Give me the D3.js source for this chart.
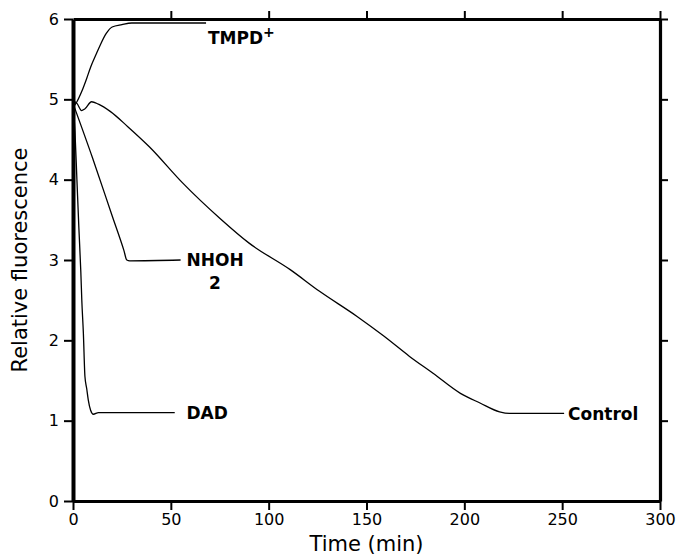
<!DOCTYPE html>
<html>
<head>
<meta charset="utf-8">
<script src="https://cdn.jsdelivr.net/npm/d3@7"></script>
<style>
  body { margin: 0; background: #fff; }
  text { font-family: "DejaVu Sans", sans-serif; fill: #000; }
</style>
</head>
<body>
<div id="chart"></div>
<script>
// Data (time in min, relative fluorescence)
var controlT = [0, 2, 4.4, 6, 9.5, 13, 19, 28, 39, 56, 75, 90, 111, 126, 145, 159, 172, 184, 198, 208, 218, 223, 251];
var controlV = [4.98, 4.95, 4.86, 4.88, 4.97, 4.94, 4.85, 4.66, 4.41, 3.96, 3.52, 3.21, 2.88, 2.61, 2.30, 2.05, 1.80, 1.59, 1.34, 1.22, 1.11, 1.09, 1.09];
var tmpdT = [0, 2, 4.5, 7, 9, 12, 14, 17, 20, 25, 30, 40, 68];
var tmpdV = [4.9, 4.97, 5.1, 5.26, 5.4, 5.57, 5.68, 5.82, 5.9, 5.93, 5.95, 5.95, 5.95];
var nhohT = [0, 10, 20, 26, 27.5, 29, 55];
var nhohV = [4.95, 4.27, 3.55, 3.12, 3.0, 2.99, 3.0];
var dadT = [0, 1, 2, 3, 4, 4.5, 5.3, 6.1, 7, 7.8, 9, 10.4, 13, 52];
var dadV = [4.95, 4.6, 4.0, 3.4, 2.85, 2.5, 2.09, 1.55, 1.4, 1.26, 1.13, 1.08, 1.1, 1.1];

var xTicks = [0, 50, 100, 150, 200, 250, 300];
var yTicks = [0, 1, 2, 3, 4, 5, 6];

function pts(t, v) {
    var out = [];
    for (var i = 0; i < t.length; i++) out.push({x: t[i], y: v[i]});
    return out;
}

var margin = {top: 19, right: 29, bottom: 56, left: 73},
    W = 689, H = 557,
    width = W - margin.left - margin.right,
    height = H - margin.top - margin.bottom;

var svg = d3.select("#chart").append("svg").attr("width", W).attr("height", H);
var g = svg.append("g").attr("transform", "translate(" + margin.left + "," + margin.top + ")");

var x = d3.scaleLinear().domain([0, 300]).range([0, width]);
var y = d3.scaleLinear().domain([0, 6]).range([height, 0]);

// Axes (frame on all four sides)
var ax = g.append("g").attr("transform", "translate(0," + height + ")")
    .call(d3.axisBottom(x).tickValues(xTicks).tickSize(9).tickSizeOuter(0).tickPadding(4).tickFormat(d3.format("d")));
var at = g.append("g")
    .call(d3.axisTop(x).tickValues(xTicks.slice(1)).tickSize(8).tickSizeOuter(0).tickFormat(""));
var ay = g.append("g")
    .call(d3.axisLeft(y).tickValues(yTicks).tickSize(9).tickSizeOuter(0).tickPadding(5).tickFormat(d3.format("d")));
var ar = g.append("g").attr("transform", "translate(" + width + ",0)")
    .call(d3.axisRight(y).tickValues(yTicks.slice(1)).tickSize(8).tickSizeOuter(0).tickFormat(""));

[ax, at, ay, ar].forEach(function(a) {
    a.select(".domain").attr("stroke", "#000").attr("stroke-width", 3.2);
    a.selectAll(".tick line").attr("stroke", "#000").attr("stroke-width", 2);
    a.selectAll(".tick text").style("font-size", "16px").attr("fill", "#000");
});
ay.select(".domain").attr("stroke-width", 4);

// Curves
var line = d3.line()
    .curve(d3.curveMonotoneX)
    .x(function(d) { return x(d.x); })
    .y(function(d) { return y(d.y); });

[[controlT, controlV], [tmpdT, tmpdV], [nhohT, nhohV], [dadT, dadV]].forEach(function(s) {
    g.append("path")
        .datum(pts(s[0], s[1]))
        .attr("fill", "none")
        .attr("stroke", "#000")
        .attr("stroke-width", 1.3)
        .attr("d", line);
});

// Curve labels
function label(t, v, txt) {
    return g.append("text")
        .attr("x", x(t)).attr("y", y(v))
        .attr("dy", "0.36em")
        .style("font-size", "17px").style("font-weight", "bold")
        .text(txt);
}
var tl = label(69, 5.77, "TMPD");
tl.append("tspan").attr("dy", "-0.45em").style("font-size", "14px").text("+");
label(58, 3.0, "NHOH");
g.append("text")
    .attr("x", x(69.5)).attr("y", y(2.72))
    .attr("dy", "0.36em")
    .style("font-size", "17px").style("font-weight", "bold")
    .text("2");
label(58, 1.1, "DAD");
label(253, 1.09, "Control");

// Axis titles
svg.append("text")
    .attr("x", margin.left + x(150)).attr("y", 551)
    .attr("text-anchor", "middle")
    .style("font-size", "21px")
    .text("Time (min)");
svg.append("text")
    .attr("transform", "translate(27," + (margin.top + y(3)) + ") rotate(-90)")
    .attr("text-anchor", "middle")
    .style("font-size", "21px")
    .text("Relative fluorescence");
</script>
</body>
</html>
